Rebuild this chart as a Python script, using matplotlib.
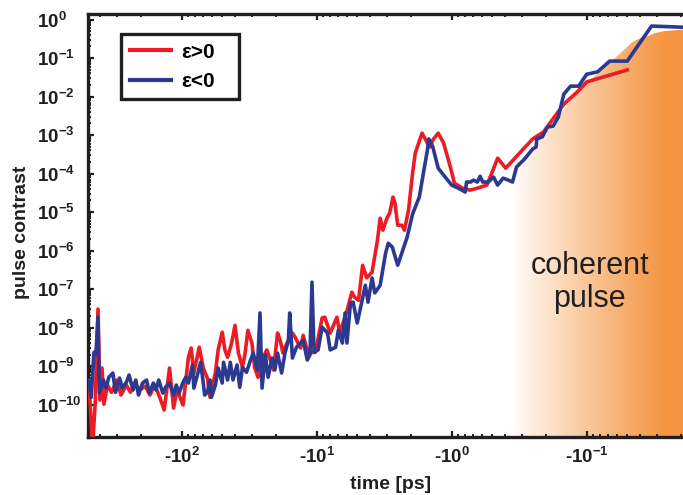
import numpy as np
import matplotlib
matplotlib.use('Agg')
import matplotlib.pyplot as plt
from matplotlib.image import AxesImage
from matplotlib.ticker import FixedLocator, LogLocator, FuncFormatter, NullFormatter

# (log10 |t| in ps, log10 contrast); times are negative
red_trace = [
    (2.69, -9.57), (2.68, -9.88), (2.66, -11.05), (2.64, -9.94), (2.62, -7.52),
    (2.605, -9.88), (2.59, -9.05), (2.576, -9.99), (2.55, -9.49), (2.52, -9.68),
    (2.48, -9.36), (2.45, -9.75), (2.41, -9.49), (2.38, -9.68), (2.35, -9.44),
    (2.31, -9.62), (2.27, -9.52), (2.235, -9.75), (2.20, -9.49), (2.16, -9.83),
    (2.13, -10.14), (2.09, -9.05), (2.06, -10.09), (2.035, -9.62), (2.01, -9.83),
    (1.99, -10.01), (1.95, -8.77), (1.93, -8.53), (1.91, -9.18), (1.87, -8.51),
    (1.84, -9.05), (1.81, -9.31), (1.79, -9.81), (1.75, -9.16), (1.73, -8.58),
    (1.70, -8.12), (1.68, -8.58), (1.66, -8.77), (1.63, -8.40), (1.605, -7.94),
    (1.58, -8.66), (1.55, -9.03), (1.53, -8.66), (1.51, -8.07), (1.48, -8.40),
    (1.46, -9.03), (1.435, -9.29), (1.40, -8.79), (1.37, -8.58), (1.35, -8.77),
    (1.32, -9.10), (1.29, -8.14), (1.27, -8.33), (1.25, -8.66), (1.22, -8.40),
    (1.18, -8.14), (1.16, -8.25), (1.12, -8.53), (1.10, -8.20), (1.08, -8.46),
    (1.06, -8.66), (1.01, -8.64), (0.96, -7.75), (0.94, -7.73), (0.90, -8.14),
    (0.85, -7.73), (0.83, -8.14), (0.78, -7.62), (0.74, -7.08), (0.72, -7.21),
    (0.69, -7.29), (0.66, -6.38), (0.63, -6.71), (0.59, -6.56), (0.55, -5.73),
    (0.53, -5.16), (0.51, -5.47), (0.48, -5.16), (0.46, -5.03), (0.435, -4.61),
    (0.42, -4.77), (0.40, -5.34), (0.37, -5.34), (0.35, -5.47), (0.32, -4.95),
    (0.29, -3.99), (0.27, -3.47), (0.22, -2.95), (0.18, -3.21), (0.16, -3.31),
    (0.14, -3.13), (0.10, -2.95), (0.06, -3.21), (0.01, -3.83), (-0.02, -4.25),
    (-0.08, -4.38), (-0.135, -4.43), (-0.19, -4.38), (-0.26, -4.30), (-0.30, -3.96),
    (-0.34, -3.60), (-0.40, -3.86), (-0.51, -3.44), (-0.60, -3.10), (-0.68, -2.92),
    (-0.75, -2.58), (-0.83, -2.20), (-0.93, -1.88), (-1.00, -1.62), (-1.30, -1.31),
]

blue_trace = [
    (2.69, -9.36), (2.67, -9.81), (2.65, -8.64), (2.635, -8.68), (2.62, -7.73),
    (2.61, -9.70), (2.58, -9.36), (2.56, -9.57), (2.54, -9.29), (2.51, -9.18),
    (2.49, -9.68), (2.46, -9.31), (2.44, -9.57), (2.41, -9.42), (2.39, -9.23),
    (2.36, -9.62), (2.34, -9.36), (2.32, -9.75), (2.29, -9.44), (2.26, -9.36),
    (2.24, -9.70), (2.21, -9.44), (2.19, -9.62), (2.17, -9.36), (2.14, -9.70),
    (2.12, -9.55), (2.09, -9.44), (2.06, -9.75), (2.04, -9.49), (2.02, -9.70),
    (1.99, -9.42), (1.97, -9.29), (1.95, -9.44), (1.92, -8.97), (1.91, -9.57),
    (1.88, -9.18), (1.86, -8.90), (1.84, -9.44), (1.83, -9.75), (1.81, -9.68),
    (1.79, -9.36), (1.78, -9.81), (1.75, -9.49), (1.73, -9.05), (1.70, -9.44),
    (1.69, -8.90), (1.66, -9.36), (1.64, -8.90), (1.62, -9.36), (1.59, -8.97),
    (1.57, -9.55), (1.55, -9.03), (1.52, -9.16), (1.49, -8.84), (1.47, -8.66),
    (1.44, -9.10), (1.42, -7.62), (1.405, -9.57), (1.38, -8.71), (1.36, -9.29),
    (1.33, -8.79), (1.31, -9.10), (1.29, -8.66), (1.26, -9.18), (1.235, -8.66),
    (1.21, -8.33), (1.20, -7.62), (1.18, -8.79), (1.15, -8.51), (1.12, -8.40),
    (1.10, -8.33), (1.07, -8.84), (1.05, -8.71), (1.035, -6.82), (1.02, -8.64),
    (0.99, -8.58), (0.96, -7.99), (0.92, -8.14), (0.90, -8.58), (0.86, -8.51),
    (0.84, -8.07), (0.81, -8.40), (0.79, -7.62), (0.776, -8.40), (0.75, -7.36),
    (0.73, -7.34), (0.70, -7.88), (0.68, -7.55), (0.64, -6.90), (0.62, -7.34),
    (0.59, -6.71), (0.57, -7.10), (0.53, -6.90), (0.49, -6.07), (0.47, -5.81),
    (0.44, -5.91), (0.40, -6.38), (0.33, -5.65), (0.29, -5.05), (0.24, -4.61),
    (0.21, -3.99), (0.18, -3.39), (0.17, -3.10), (0.14, -3.31), (0.10, -3.86),
    (0.06, -4.04), (0.00, -4.30), (-0.05, -4.38), (-0.10, -4.48), (-0.11, -4.22),
    (-0.14, -4.22), (-0.16, -4.17), (-0.19, -4.22), (-0.21, -4.07), (-0.23, -4.22),
    (-0.27, -4.22), (-0.31, -4.09), (-0.34, -4.30), (-0.38, -4.12), (-0.42, -4.17),
    (-0.45, -4.22), (-0.48, -3.83), (-0.54, -3.62), (-0.60, -3.36), (-0.625, -3.31),
    (-0.63, -3.10), (-0.67, -3.05), (-0.71, -2.79), (-0.75, -2.77), (-0.79, -2.53),
    (-0.83, -1.94), (-0.88, -1.73), (-0.94, -1.73), (-1.00, -1.42), (-1.08, -1.36),
    (-1.17, -1.08), (-1.30, -1.08), (-1.48, -0.17), (-1.71, -0.20),
]

# upper edge of the shaded "coherent pulse" region
coherent_edge = [
    (-0.47, -3.91), (-0.58, -3.44), (-0.69, -3.00), (-0.80, -2.48), (-0.91, -1.96),
    (-1.02, -1.57), (-1.10, -1.36), (-1.15, -1.13), (-1.20, -1.03), (-1.25, -0.87),
    (-1.30, -0.71), (-1.34, -0.58), (-1.40, -0.48), (-1.45, -0.43), (-1.51, -0.35),
    (-1.58, -0.30), (-1.75, -0.25),
]

x_tick_exp = [2, 1, 0, -1]
y_tick_exp = [0, -1, -2, -3, -4, -5, -6, -7, -8, -9, -10]
x_range_exp = (2.694, -1.713)
y_range_exp = (-10.84, 0.143)

RED = '#ED1C24'
BLUE = '#2B3990'
DARK = '#231F20'
ORANGE = np.array([0.957, 0.584, 0.255])

plt.rcParams['font.family'] = 'Liberation Sans'
plt.rcParams['mathtext.fontset'] = 'custom'
plt.rcParams['mathtext.rm'] = 'Liberation Sans'
plt.rcParams['mathtext.bf'] = 'Liberation Sans:bold'
plt.rcParams['mathtext.it'] = 'Liberation Sans:italic'


def unzip(trace):
    lt, lc = zip(*trace)
    return 10 ** np.array(lt), 10 ** np.array(lc)


fig = plt.figure(figsize=(6.83, 4.95), dpi=100)
ax = fig.add_axes([88 / 683, 58 / 495, 595 / 683, 423 / 495])
ax.set_xscale('log')
ax.set_yscale('log')
ax.set_autoscale_on(False)
ax.set_xlim(10 ** x_range_exp[0], 10 ** x_range_exp[1])
ax.set_ylim(10 ** y_range_exp[0], 10 ** y_range_exp[1])

# shaded coherent pulse region: horizontal white->orange ramp clipped under the edge
env_t, env_c = unzip(coherent_edge)
poly = ax.fill_between(env_t, env_c, 10 ** y_range_exp[0], color='none', lw=0)
frac = np.linspace(0, 1, 800)
ramp = np.clip((frac - 0.715) / (0.97 - 0.715), 0, 1) ** 0.9
rgb = 1 - ramp[:, None] * (1 - ORANGE[None, :])
img = np.repeat(rgb[None, :, :], 2, axis=0)
im = AxesImage(ax, extent=(0, 1, 0, 1), transform=ax.transAxes,
               interpolation='bilinear', zorder=1)
im.set_data(img)
ax.add_image(im)
im.set_clip_path(poly.get_paths()[0], transform=ax.transData)

rt, rc = unzip(red_trace)
bt, bc = unzip(blue_trace)
ax.plot(rt, rc, color=RED, lw=2.6, solid_joinstyle='round', zorder=3, label='ε>0')
ax.plot(bt, bc, color=BLUE, lw=2.6, solid_joinstyle='round', zorder=4, label='ε<0')

ax.text(0.843, 0.366, 'coherent\npulse', transform=ax.transAxes, ha='center',
        va='center', fontsize=22, color=DARK, linespacing=1.12, zorder=5)

# axes styling
for side in ['left', 'bottom', 'top']:
    ax.spines[side].set_linewidth(2.4)
    ax.spines[side].set_color(DARK)
ax.spines['right'].set_visible(False)

ax.xaxis.set_major_locator(FixedLocator([10.0 ** e for e in x_tick_exp]))
ax.xaxis.set_minor_locator(LogLocator(base=10, subs=np.arange(2, 10), numticks=30))
ax.xaxis.set_major_formatter(FuncFormatter(
    lambda v, p: r'-$\mathbf{10^{%d}}$' % round(np.log10(v))))
ax.xaxis.set_minor_formatter(NullFormatter())
ax.yaxis.set_major_locator(FixedLocator([10.0 ** e for e in y_tick_exp]))
ax.yaxis.set_minor_locator(LogLocator(base=10, subs=np.arange(2, 10), numticks=30))
ax.yaxis.set_major_formatter(FuncFormatter(
    lambda v, p: r'$\mathbf{10^{%d}}$' % round(np.log10(v))))
ax.yaxis.set_minor_formatter(NullFormatter())

ax.tick_params(which='both', direction='in', top=True, right=False, color=DARK,
               labelcolor=DARK, labelsize=13.5)
ax.tick_params(which='major', length=4.5, width=1.6)
ax.tick_params(which='minor', length=2.2, width=1.4)
ax.tick_params(axis='x', pad=7)
ax.tick_params(axis='y', pad=36.5)
plt.setp(ax.get_yticklabels(), ha='left')
plt.setp(ax.get_xticklabels(), fontweight='bold')

ax.set_xlabel('time [ps]', fontsize=14, fontweight='bold', color=DARK)
ax.set_ylabel('pulse contrast', fontsize=14, fontweight='bold', color=DARK)
ax.xaxis.set_label_coords(0.508, -0.092)
ax.yaxis.set_label_coords(-0.097, 0.485)

leg = ax.legend(loc='upper left', bbox_to_anchor=(0.056, 0.80, 0.197, 0.152),
                mode='expand', fancybox=False, frameon=True, edgecolor=DARK,
                framealpha=1, borderpad=0.4, handlelength=2.0, handletextpad=0.5,
                labelspacing=0.5, borderaxespad=0,
                prop={'weight': 'bold', 'size': 15})
leg.get_frame().set_linewidth(2.4)
for line in leg.get_lines():
    line.set_linewidth(3.0)

fig.savefig('out.png', dpi=100)
